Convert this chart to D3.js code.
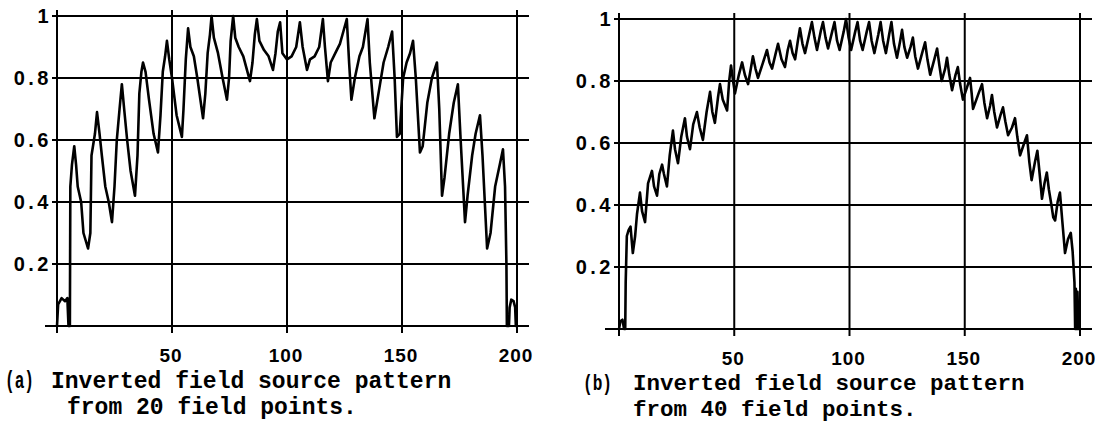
<!DOCTYPE html>
<html>
<head>
<meta charset="utf-8">
<script src="https://cdn.jsdelivr.net/npm/d3@7"></script>
<style>
  html, body { margin: 0; padding: 0; background: #ffffff; }
  svg { display: block; }
</style>
</head>
<body>
<svg id="chart" width="1101" height="432"></svg>
<script>
// ---------------- data ----------------
const xTicks = [50, 100, 150, 200];
const xTickLabels = ["50", "100", "150", "200"];
const yTicks = [0.2, 0.4, 0.6, 0.8, 1];
const yTickLabels = ["0.2", "0.4", "0.6", "0.8", "1"];

// (a) inverted field source pattern from 20 field points
const xA = [0,0.5,2,3.5,4.5,5,5.6,5.8,6.5,7.5,8.3,9,10.5,11.5,13.5,14.5,15,16.5,17.4,18.5,19.5,21,22.5,23.9,25,26,27.2,28.2,29.2,30.5,32,33.9,35,35.8,36.7,37.4,38.5,40,42,43.9,45,46,47,47.8,48.8,50,52,54.3,55,56,57,58,59.5,61,63.5,64.5,65.5,66.5,67.2,68.2,70,72,73.9,74.8,75.5,76.6,77.5,79,81,83.9,85,86,86.9,88,90,92,93.9,95,96,97,98,100,102,104,105.6,106.8,108.7,110,112,114,115.6,116.5,117.8,119,121,123,124.5,126,127,128,129.5,131.5,133,135,136,138,140,142,144,145.7,146.8,147.8,149,150.5,152,153.5,154.8,156,157.8,159,161,163,165.2,166.2,167.4,168.5,170.5,172.5,174.3,175.5,177.4,178.5,180.5,182,183.9,185,187,188.5,190.5,192.5,193.9,194.8,195.4,195.6,196.5,196.8,197.5,198.5,199.2,199.5,200];
const yA = [0,0.07,0.09,0.08,0.09,0,0,0.45,0.52,0.58,0.52,0.45,0.4,0.3,0.25,0.3,0.55,0.62,0.69,0.62,0.55,0.45,0.4,0.335,0.45,0.6,0.7,0.78,0.7,0.6,0.5,0.42,0.55,0.75,0.82,0.85,0.82,0.73,0.62,0.56,0.68,0.82,0.87,0.92,0.86,0.8,0.68,0.61,0.7,0.86,0.96,0.9,0.87,0.8,0.67,0.75,0.88,0.94,1.0,0.93,0.88,0.8,0.73,0.8,0.92,1.0,0.93,0.9,0.87,0.79,0.85,0.94,0.99,0.92,0.89,0.87,0.826,0.88,0.95,0.98,0.88,0.86,0.87,0.9,0.98,0.9,0.826,0.86,0.87,0.9,0.99,0.9,0.79,0.85,0.88,0.91,0.95,0.99,0.85,0.73,0.8,0.87,0.9,0.99,0.85,0.67,0.76,0.85,0.9,0.95,0.8,0.61,0.62,0.8,0.85,0.88,0.92,0.8,0.56,0.58,0.72,0.8,0.85,0.7,0.42,0.48,0.62,0.72,0.78,0.6,0.335,0.42,0.55,0.62,0.68,0.55,0.25,0.3,0.45,0.52,0.57,0.45,0.2,0,0,0.06,0.085,0.08,0.06,0,0];

// (b) inverted field source pattern from 40 field points
const xB = [0,0.6,1.5,2.2,2.7,2.9,3.4,4.2,5,6,7,7.8,9.1,10,11.3,12.6,14.3,15.2,16.5,17.5,18.7,19.5,20.8,22,23.4,24.3,25.6,27,28.6,29.5,30.8,32.2,33.8,35,36.4,38,39.5,40.5,41.6,43,43.8,45,46.9,47.8,48.6,49.5,50.3,52,53.4,54.6,56,57.2,58.1,59.2,60.3,62.5,64.2,65.3,66.4,68,69,70.5,72,73.2,74.2,75.3,76.4,77.6,78.5,79.6,80.7,82.5,83.7,84.8,85.9,87.5,88.5,89.6,90.7,92.5,93.5,94.6,95.7,97.5,98.5,99.6,100.7,102.5,103.5,104.6,105.7,107.5,108.5,109.6,110.8,112.5,113.5,114.6,115.8,117.2,118.2,119.3,120.6,122,122.8,123.8,125,126.5,127.5,128.5,129.7,131.5,132.8,133.8,135,136.8,138,139,140,141.5,142.3,143.3,144.5,146,147,148,149.2,151,152.3,153,153.6,156,157.5,158.5,159.7,161,161.8,162.8,164,165.5,166.6,167.6,168.8,170.5,171.8,172.8,174,175.8,177,178,179,180.5,181.5,182.5,183.5,184.6,185.6,186.5,187.6,188.4,189.2,190.3,191.3,192.3,193.5,194.8,196,196.8,197.6,197.9,198.2,198.6,198.9,199.3,200];
const yB = [0,0.025,0.03,0,0,0.15,0.3,0.32,0.33,0.245,0.3,0.37,0.44,0.38,0.345,0.47,0.51,0.46,0.43,0.5,0.53,0.5,0.46,0.56,0.64,0.58,0.535,0.62,0.68,0.62,0.58,0.66,0.7,0.65,0.61,0.7,0.765,0.7,0.665,0.75,0.79,0.74,0.705,0.8,0.85,0.8,0.76,0.82,0.86,0.82,0.79,0.84,0.88,0.84,0.81,0.86,0.9,0.86,0.84,0.89,0.92,0.87,0.845,0.9,0.93,0.89,0.87,0.93,0.97,0.92,0.89,0.95,0.99,0.94,0.9,0.96,0.99,0.94,0.905,0.96,0.99,0.93,0.9,0.96,1.0,0.94,0.9,0.96,0.99,0.93,0.9,0.96,0.99,0.93,0.89,0.95,0.99,0.93,0.89,0.95,0.99,0.92,0.875,0.93,0.965,0.91,0.875,0.91,0.94,0.88,0.84,0.89,0.925,0.87,0.82,0.87,0.905,0.85,0.8,0.84,0.875,0.82,0.77,0.82,0.845,0.79,0.74,0.78,0.81,0.76,0.71,0.76,0.79,0.73,0.68,0.72,0.755,0.7,0.65,0.69,0.715,0.67,0.625,0.65,0.68,0.62,0.56,0.6,0.625,0.54,0.48,0.54,0.575,0.5,0.42,0.47,0.505,0.45,0.4,0.36,0.35,0.41,0.44,0.35,0.245,0.29,0.31,0.25,0.15,0,0.13,0,0.12,0,0];

const captionA = ["(a)", "Inverted field source pattern", "from 20 field points."];
const captionB = ["(b)", "Inverted field source pattern", "from 40 field points."];

// ---------------- drawing ----------------
const svg = d3.select("#chart");

const panels = [
  { xs: xA, ys: yA, cap: captionA, left: 57, right: 517, top: 16, bottom: 326,
    axisLeftExt: 12, capX0: 5, capW0: 29, capX1: 51, capX2: 67, capY1: 388, capY2: 414, capSize: 23,
    xLabY: 362 },
  { xs: xB, ys: yB, cap: captionB, left: 619, right: 1080, top: 19, bottom: 329,
    axisLeftExt: 14, capX0: 583, capW0: 29, capX1: 633, capX2: 633, capY1: 390, capY2: 416, capSize: 22.5,
    xLabY: 365 }
];

panels.forEach(p => {
  const x = d3.scaleLinear().domain([0, 200]).range([p.left, p.right]);
  const y = d3.scaleLinear().domain([0, 1]).range([p.bottom, p.top]);
  const g = svg.append("g");

  // horizontal grid lines (and short left ticks)
  g.selectAll("line.h").data(yTicks).enter().append("line")
    .attr("x1", x(0) - 5).attr("x2", x(200) + 12)
    .attr("y1", d => y(d)).attr("y2", d => y(d))
    .attr("stroke", "#000").attr("stroke-width", 2.2);

  // bottom axis
  g.append("line")
    .attr("x1", x(0) - p.axisLeftExt).attr("x2", x(200) + 12)
    .attr("y1", y(0)).attr("y2", y(0))
    .attr("stroke", "#000").attr("stroke-width", 2.2);

  // vertical grid lines incl. the y axis
  g.selectAll("line.v").data([0].concat(xTicks)).enter().append("line")
    .attr("x1", d => x(d)).attr("x2", d => x(d))
    .attr("y1", y(1) - 6).attr("y2", y(0) + 7)
    .attr("stroke", "#000").attr("stroke-width", 2);

  // y tick labels
  g.selectAll("text.yl").data(yTicks).enter().append("text")
    .attr("x", x(0) - 5).attr("y", d => y(d) + 7)
    .attr("text-anchor", "end")
    .attr("font-family", "'Liberation Sans', Arial, sans-serif")
    .attr("font-weight", "bold")
    .attr("font-size", 20)
    .attr("letter-spacing", 3.5)
    .text((d, i) => yTickLabels[i]);

  // x tick labels
  g.selectAll("text.xl").data(xTicks).enter().append("text")
    .attr("x", d => x(d) - 1).attr("y", p.xLabY)
    .attr("text-anchor", "middle")
    .attr("font-family", "'Liberation Sans', Arial, sans-serif")
    .attr("font-weight", "bold")
    .attr("font-size", 19)
    .attr("letter-spacing", 1)
    .text((d, i) => xTickLabels[i]);

  // data curve
  const pts = p.xs.map((v, i) => [v, p.ys[i]]);
  g.append("path")
    .datum(pts)
    .attr("d", d3.line().x(d => x(d[0])).y(d => y(d[1])))
    .attr("fill", "none")
    .attr("stroke", "#000")
    .attr("stroke-width", 2.6)
    .attr("stroke-linejoin", "round");

  // caption
  const capFont = "'Liberation Mono', 'Courier New', monospace";
  g.append("text")
    .attr("x", p.capX0).attr("y", p.capY1)
    .attr("font-family", capFont).attr("font-weight", "bold").attr("font-size", p.capSize)
    .attr("textLength", p.capW0).attr("lengthAdjust", "spacingAndGlyphs")
    .text(p.cap[0]);
  g.append("text")
    .attr("x", p.capX1).attr("y", p.capY1)
    .attr("font-family", capFont).attr("font-weight", "bold").attr("font-size", p.capSize)
    .text(p.cap[1]);
  g.append("text")
    .attr("x", p.capX2).attr("y", p.capY2)
    .attr("font-family", capFont).attr("font-weight", "bold").attr("font-size", p.capSize)
    .text(p.cap[2]);
});
</script>
</body>
</html>
